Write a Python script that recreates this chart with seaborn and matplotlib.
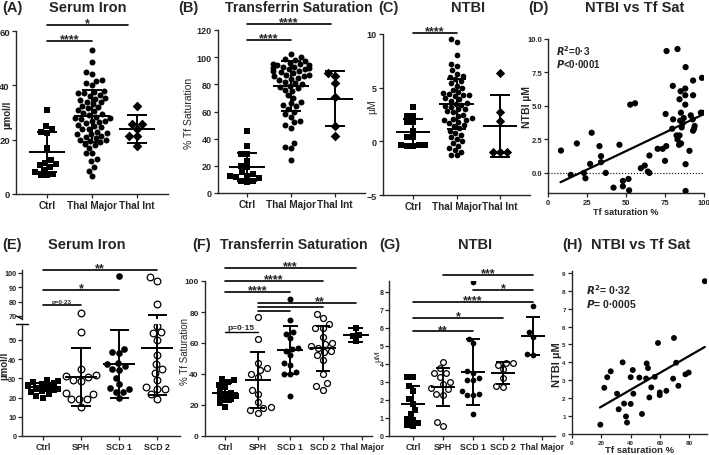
import warnings
warnings.filterwarnings("ignore")
import numpy as np
import pandas as pd
import matplotlib
matplotlib.use("Agg")
import matplotlib.pyplot as plt
import seaborn as sns

sns.set_theme(style="ticks")
plt.rcParams['font.family'] = ['Liberation Sans', 'DejaVu Sans']
plt.rcParams['font.weight'] = 'bold'
plt.rcParams['axes.linewidth'] = 1.0

# ---------------- DATA ----------------
# (A) Serum iron
A_cats = ["Ctrl", "Thal Major", "Thal Int"]
A_ctrl = [31, 25, 24, 23, 22.5, 17, 12.5, 11.5, 11, 10.5, 10, 9, 8, 7.5, 7, 7]
A_major = [53, 48.5, 45, 44, 42, 41.5, 41, 40, 38, 37.5, 37, 37, 36.5, 36, 35.5, 35,
           34.5, 34, 34, 33, 32.5, 32, 31.5, 31, 30.5, 30, 29.5, 29, 28.5, 28, 28,
           27.5, 27, 27, 26.5, 26, 25.5, 25, 24.5, 24, 24, 23, 22.5, 22, 22, 21.5,
           21, 20.5, 20, 20, 19.5, 19, 18.5, 18, 17, 15, 15, 13, 12, 10, 8.5, 6.5]
A_int = [32.4, 25.8, 25.8, 24, 21.4, 21.4, 17.7]
A_mean = [15.5, 28.7, 23.9]
A_sd = [7.3, 9.5, 5.2]

# (B) Transferrin saturation
B_ctrl = [46, 34.5, 29, 28.5, 23.5, 20, 19, 15.5, 14, 12.5, 12.5, 12, 11, 9, 9, 8]
B_major = [102, 100, 99, 98, 97, 96, 95, 95, 94, 94, 93, 93, 92, 92, 91, 91, 90, 90,
           89, 88, 87, 87, 86, 86, 85, 84, 83, 82, 81, 80, 79, 78, 77, 76, 75, 72, 70,
           67, 66, 65, 64, 62, 60, 58, 56, 53, 52, 50, 48, 37, 34, 33, 24]
B_int = [88.5, 86.5, 81, 71, 49, 42]
B_mean = [19.2, 78.8, 69.5]
B_sd = [10.6, 18.3, 20.3]

# (C) NTBI
C_ctrl = [3.2, 2.4, 2.4, 1.8, 1.8, 1.0, 0.4, 0.4, -0.35, -0.35, -0.35, -0.4, -0.45]
C_major = [9.5, 9.3, 8.0, 7.2, 7.0, 6.6, 6.3, 6.1, 6.0, 5.8, 5.6, 5.4, 5.2, 5.0, 4.8,
           4.6, 4.5, 4.4, 4.3, 4.3, 4.2, 4.0, 3.9, 3.8, 3.6, 3.5, 3.4, 3.3, 3.2, 3.0,
           3.0, 2.8, 2.7, 2.5, 2.4, 2.2, 2.1, 2.0, 2.0, 1.8, 1.7, 1.5, 1.4, 1.2, 1.0,
           0.8, 0.6, 0.4, 0.2, 0.0, -0.2, -0.4, -0.6, -0.8, -1.0, -1.3, -1.3]
C_int = [6.4, 2.7, 1.9, -1.0, -1.0, -1.0]
C_mean = [0.84, 3.47, 1.43]
C_sd = [1.2, 2.3, 2.9]

# (D) NTBI vs Tf sat (top)
D_x = [8.3, 14.6, 18.5, 23, 24, 27, 28, 33, 34, 34, 37, 42, 45.8, 48, 48, 51.6, 52,
       52.7, 55.8, 59.5, 62, 64, 65, 65, 70.3, 73.5, 75, 75.4, 75.8, 76, 80, 79.6,
       80.2, 83, 84.7, 82.4, 83, 84, 84.3, 85, 85.2, 85.7, 86.3, 87, 88, 88, 88,
       88.2, 88.2, 88.2, 90.7, 91.5, 92.8, 93, 93, 93, 93.6, 94, 98.7, 98, 100.4,
       84.3, 85.3]
D_y = [1.67, -0.15, 2.2, 0.0, -0.4, 0.67, 3.0, 2.0, 1.25, 0.8, 0.0, -1.1, 2.1, -0.6,
       -1.0, -0.45, -1.3, 5.1, 5.2, 0.35, 0.55, 0.1, 0.0, 1.3, 1.8, 1.8, 0.9, 4.4,
       2.0, 9.1, 6.5, 3.3, 4.0, 9.25, 3.9, 2.8, 2.5, 2.1, 5.5, 6.1, 4.5, 3.4, 3.7,
       4.1, 6.3, 5.8, 5.1, 7.9, 0.65, -1.35, 1.65, 4.3, 4.0, 6.9, 5.8, 3.15, 3.3,
       3.5, 7.1, 4.5, 4.5, 2.8, 2.2]
D_fit = (0.0554, -1.14)
D_fit_x = [8, 100]

# (E) Serum iron (bottom)
E_cats = ["Ctrl", "SPH", "SCD 1", "SCD 2"]
E_ctrl = [29, 28.5, 28, 27.5, 27, 26.5, 26, 25.5, 25, 24.5, 24, 23.5, 23, 22, 21, 20]
E_sph = [72, 54, 35, 32, 31, 30.5, 29, 28.5, 22.5, 22, 19.5, 19, 19, 15]
E_scd1 = [98, 45.5, 43.5, 43, 38, 37.5, 36.5, 35, 34.5, 30, 27, 25, 24.5, 23, 23, 20]
E_scd2 = [97, 94.5, 78, 57.5, 54, 53.5, 50, 42, 37.5, 35, 33, 29, 25.5, 24.5, 24.5,
          22, 19.5]
E_mean = [25.4, 30.7, 37.4, 45.8]
E_sd = [2.0, 15.3, 17.6, 24.5]

# (F) Transferrin saturation (bottom)
F_cats = ["Ctrl", "SPH", "SCD 1", "SCD 2", "Thal Major"]
F_ctrl = [37, 36, 35, 33, 31.5, 29, 28, 27, 26, 25, 24, 23, 21, 19]
F_sph = [77, 62.5, 47, 44, 42.5, 40, 38, 30, 27, 22, 19, 18, 16.5, 15]
F_scd1 = [88.5, 75, 67, 66, 63.5, 57, 56, 55, 52, 47, 46, 41, 40, 40, 26]
F_scd2 = [78.5, 76, 72, 70, 69.5, 64, 60, 59.5, 58, 57, 55, 54, 52, 49, 40, 34, 32, 30]
F_thal = [70, 65, 64.5, 61]
F_mean = [28, 36, 55.5, 56.5, 65]
F_sd = [6, 18, 15.5, 14.5, 4.5]

# (G) NTBI (bottom)
G_ctrl = [3.3, 3.25, 2.75, 2.5, 2.05, 1.8, 1.45, 1.2, 0.95, 0.9, 0.7, 0.6, 0.55]
G_sph = [4.1, 3.75, 3.5, 3.5, 3.25, 3.0, 2.9, 2.65, 2.6, 2.35, 2.3, 0.8, 0.55]
G_scd1 = [8.55, 5.4, 5.15, 3.6, 3.5, 3.2, 3.1, 3.1, 2.5, 2.35, 2.3, 2.3, 1.2]
G_scd2 = [4.05, 4.05, 3.95, 3.7, 3.2, 2.75, 2.7]
G_thal = [7.2, 5.75, 5.5, 4.5, 4.55]
G_mean = [1.8, 2.7, 3.55, 3.5, 5.55]
G_sd = [1.0, 1.05, 1.85, 0.6, 1.05]

# (H) NTBI vs Tf sat (bottom)
H_x = [19.3, 22, 24, 26.4, 30.7, 31.8, 34.5, 35.5, 36.8, 37.5, 40, 40, 41.4, 41.8,
       45.9, 47.7, 50.5, 50.9, 51.8, 52.7, 54, 56.4, 58.6, 59.8, 59.8, 64.3, 68.9,
       69.5, 71, 72.5, 77.3, 79.5, 90.5]
H_y = [0.52, 2.58, 3.17, 3.5, 2.25, 1.38, 4.0, 1.7, 0.98, 0.64, 1.68, 3.17, 3.57,
       2.25, 3.15, 1.12, 3.1, 3.94, 3.68, 2.04, 2.6, 3.19, 5.08, 2.32, 2.17, 2.41,
       3.09, 5.36, 3.98, 2.69, 3.33, 3.43, 8.53]
H_fit = (0.0473, 0.58)
H_fit_x = [19, 90.5]

# ---------------- LAYOUT ----------------
W, H = 709, 456
fig = plt.figure(figsize=(W / 100, H / 100), dpi=100)


def rect(l, t, r, b):
    return [l / W, 1 - b / H, (r - l) / W, (b - t) / H]


def style(ax, fs=6.5, xfs=None, pad=1.5):
    sns.despine(ax=ax)
    ax.tick_params(axis="both", labelsize=fs, length=3, width=0.9, pad=pad)
    if xfs:
        ax.tick_params(axis="x", labelsize=xfs, pad=1.5)
    for lab in ax.get_xticklabels() + ax.get_yticklabels():
        lab.set_fontweight("bold")
    ax.set_xlabel("")
    ax.set_ylabel("")


def ylab(ax, text, xr, yc, fs=7, weight="bold"):
    ax.set_ylabel(text, fontsize=fs, fontweight=weight)
    ax.yaxis.set_label_coords(xr / W, 1 - yc / H, transform=fig.transFigure)


def swarm(ax, cats, groups, markers, fills, size):
    for c, vals, m, f in zip(cats, groups, markers, fills):
        df = pd.DataFrame({"g": [c] * len(vals), "v": vals})
        sns.swarmplot(data=df, x="g", y="v", order=cats, ax=ax, marker=m,
                      size=size * (1.15 if m == "D" else 1.0),
                      color="black" if f else "white", edgecolor="black",
                      linewidth=0 if f else 0.9, warn_thresh=1.0, zorder=3)


def meansd(ax, means, sds, mw=0.7, cw=0.4, lw=1.4):
    for i, (m, s) in enumerate(zip(means, sds)):
        ax.vlines(i, m - s, m + s, color="black", lw=lw, zorder=4)
        ax.hlines([m - s, m + s], i - cw / 2, i + cw / 2, color="black", lw=lw, zorder=4)
        ax.hlines(m, i - mw / 2, i + mw / 2, color="black", lw=lw, zorder=4)


def sig(ax, x1, x2, y, txt, fs=9, dy=0.0, tx=None, lw=1.2):
    ax.plot([x1, x2], [y, y], color="black", lw=lw, clip_on=False, zorder=5)
    if txt:
        ax.text((x1 + x2) / 2 if tx is None else tx, y + dy, txt, ha="center",
                va="bottom", fontsize=fs, fontweight="bold", clip_on=False)


# ---- (A)
axA = fig.add_axes(rect(16, 32, 168, 195))
swarm(axA, A_cats, [A_ctrl, A_major, A_int], ["s", "o", "D"], [1, 1, 1], 4.3)
meansd(axA, A_mean, A_sd, mw=0.8, cw=0.45)
axA.set_xlim(-0.69, 2.7)
axA.set_ylim(0, 60)
axA.set_yticks([0, 20, 40, 60])
style(axA, fs=6.8, xfs=7.2)
ylab(axA, "µmol/l", 12, 115)
sig(axA, 0, 1, 56.3, "****", dy=-1.6)
sig(axA, 0, 1.8, 62.2, "*", dy=-1.6)

# ---- (B)
axB = fig.add_axes(rect(218, 31, 365, 194))
swarm(axB, A_cats, [B_ctrl, B_major, B_int], ["s", "o", "D"], [1, 1, 1], 4.3)
meansd(axB, B_mean, B_sd, mw=0.8, cw=0.45)
axB.set_xlim(-0.66, 2.68)
axB.set_ylim(0, 120)
axB.set_yticks([0, 20, 40, 60, 80, 100, 120])
style(axB, fs=6.5, xfs=7.2)
ylab(axB, "% Tf Saturation", 194, 113, fs=7.5, weight="normal")
sig(axB, 0, 1, 112.6, "****", dy=-3.2)
sig(axB, 0, 1.9, 124.4, "****", dy=-3.2)

# ---- (C)
axC = fig.add_axes(rect(383, 35, 530, 196))
swarm(axC, A_cats, [C_ctrl, C_major, C_int], ["s", "o", "D"], [1, 1, 1], 4.1)
meansd(axC, C_mean, C_sd, mw=0.8, cw=0.45)
axC.set_xlim(-0.69, 2.69)
axC.set_ylim(-5, 10)
axC.set_yticks([-5, 0, 5, 10])
style(axC, fs=6.5, xfs=7.2)
ylab(axC, "µM", 377, 107, fs=7.5, weight="normal")
sig(axC, 0, 1, 10.1, "****", dy=-0.4)

# ---- (D)
axD = fig.add_axes(rect(548, 40, 704, 194))
sns.scatterplot(x=D_x, y=D_y, ax=axD, color="black", s=20, edgecolor="none", zorder=3)
axD.axhline(0, color="black", lw=0.8, ls=":", zorder=1)
fx = np.array(D_fit_x)
axD.plot(fx, D_fit[0] * fx + D_fit[1], color="black", lw=1.6)
axD.set_xlim(0, 100)
axD.set_ylim(-1.5, 10)
axD.set_xticks([0, 25, 50, 75, 100])
axD.set_yticks([0, 2.5, 5, 7.5, 10])
axD.set_yticklabels(["0.0", "2.5", "5.0", "7.5", "10.0"])
style(axD, fs=5.5, pad=1.0)
axD.set_xlabel("Tf saturation %", fontsize=6.5, fontweight="bold", labelpad=1)
ylab(axD, "NTBI µM", 532, 107, fs=7.5)
axD.text(0.05, 0.97, r"$\bfit{R}$$\bf^2$=0·3", transform=axD.transAxes, fontsize=7,
         va="top", fontweight="bold")
axD.text(0.05, 0.88, r"$\bfit{P}$<0·0001", transform=axD.transAxes, fontsize=7,
         va="top", fontweight="bold")

# ---- (E) broken axis
axEl = fig.add_axes(rect(22, 325, 180, 437))
axEu = fig.add_axes(rect(22, 271, 180, 320))
Eg = [E_ctrl, E_sph, E_scd1, E_scd2]
Em = ["s", "o", "o", "o"]
Ef = [1, 0, 1, 0]
for ax in (axEl, axEu):
    swarm(ax, E_cats, Eg, Em, Ef, 4.8)
    meansd(ax, E_mean, E_sd, mw=0.85, cw=0.5)
    ax.set_xlim(-0.55, 3.6)
axEl.set_ylim(0, 58.3)
axEl.set_yticks([0, 10, 20, 30, 40, 50])
axEu.set_ylim(67.8, 102)
axEu.set_yticks([70, 80, 90, 100])
style(axEl, fs=5.3, xfs=6.3, pad=1.0)
style(axEu, fs=5.3, pad=1.0)
axEu.spines["bottom"].set_visible(False)
axEu.tick_params(axis="x", bottom=False, labelbottom=False)
axEl.plot([-0.035, 0.035], [1, 1], transform=axEl.transAxes, color="black", lw=1.0,
          clip_on=False)
axEu.plot([-0.035, 0.0], [0.06, 0.0], transform=axEu.transAxes, color="black", lw=1.0,
          clip_on=False)
ylab(axEl, "µmol/l", 9, 366)
sig(axEu, 0, 1, 77.8, "p=0·23", fs=4.5, dy=0.4)
sig(axEu, 0, 2, 88.3, "*", fs=9, dy=-3.5)
sig(axEu, 0, 3, 102.3, "**", fs=9, dy=-3.5)

# ---- (F)
axF = fig.add_axes(rect(205, 282, 372, 437))
swarm(axF, F_cats, [F_ctrl, F_sph, F_scd1, F_scd2, F_thal],
      ["s", "o", "o", "o", "s"], [1, 0, 1, 0, 1], 4.3)
meansd(axF, F_mean, F_sd, mw=0.8, cw=0.45)
axF.set_xlim(-0.61, 4.5)
axF.set_ylim(0, 100)
axF.set_yticks([0, 20, 40, 60, 80, 100])
axF.set_xticks([0, 1, 2, 3, 4.2])
axF.set_xticklabels(F_cats)
style(axF, fs=6, xfs=6.3)
ylab(axF, "% Tf Saturation", 190, 352, fs=7, weight="normal")
sig(axF, 0, 1, 67, "p=0·15", fs=6, dy=0.6, lw=1.0)
sig(axF, 0, 2, 93, "****", dy=-2.8)
sig(axF, 0, 3, 100, "****", dy=-2.8)
sig(axF, 0, 4, 108.4, "***", dy=-2.8)
sig(axF, 1, 2, 80.6, "")
sig(axF, 1, 3, 83.0, "")
sig(axF, 1, 4, 85.8, "**", dy=-2.8, tx=2.9)

# ---- (G)
axG = fig.add_axes(rect(389, 282, 555, 437))
swarm(axG, F_cats, [G_ctrl, G_sph, G_scd1, G_scd2, G_thal],
      ["s", "o", "o", "o", "o"], [1, 0, 1, 0, 1], 4.1)
meansd(axG, G_mean, G_sd, mw=0.8, cw=0.45)
axG.set_xlim(-0.8, 4.73)
axG.set_ylim(0, 8.6)
axG.set_yticks(range(0, 9))
axG.set_xticks([0, 1, 2, 3, 4.3])
axG.set_xticklabels(F_cats)
style(axG, fs=5, xfs=6.3, pad=1.0)
ylab(axG, "µM", 381, 356, fs=6, weight="normal")
sig(axG, 0, 2, 5.8, "**", dy=-0.25)
sig(axG, 0, 3, 6.55, "*", dy=-0.25)
sig(axG, 0, 4, 7.44, "****", dy=-0.25)
sig(axG, 2, 4, 8.1, "*", dy=-0.25)
sig(axG, 1, 4, 8.94, "***", dy=-0.25)

# ---- (H)
axH = fig.add_axes(rect(572, 272, 707, 435))
sns.scatterplot(x=H_x, y=H_y, ax=axH, color="black", s=18, edgecolor="none", zorder=3)
hx = np.array(H_fit_x)
axH.plot(hx, H_fit[0] * hx + H_fit[1], color="black", lw=1.6)
axH.set_xlim(0, 92)
axH.set_ylim(0, 9.1)
axH.set_xticks([0, 20, 40, 60, 80])
axH.set_yticks(range(0, 10))
style(axH, fs=4.5)
axH.tick_params(axis="x", pad=1)
axH.set_xlabel("Tf saturation %", fontsize=6.8, fontweight="bold", labelpad=0)
ylab(axH, "NTBI µM", 562, 365, fs=8)
axH.text(0.1, 0.93, r"$\bfit{R}$$\bf^2$= 0·32", transform=axH.transAxes, fontsize=7.5,
         va="top", fontweight="bold")
axH.text(0.1, 0.84, r"$\bfit{P}$= 0·0005", transform=axH.transAxes, fontsize=7.5,
         va="top", fontweight="bold")

# ---- titles
def ftxt(x, y, s, ha="left", fs=10.5):
    fig.text(x / W, 1 - y / H, s, ha=ha, va="center", fontsize=fs, fontweight="bold")

ftxt(2, 8, "(A)")
ftxt(88, 8, "Serum Iron", ha="center")
ftxt(178, 8, "(B)")
ftxt(225, 8, "Transferrin Saturation", fs=10.2)
ftxt(378, 8, "(C)")
ftxt(468, 8, "NTBI", ha="center")
ftxt(528, 8, "(D)")
ftxt(635, 8, "NTBI vs Tf Sat", ha="center")
ftxt(2, 245, "(E)")
ftxt(87, 245, "Serum Iron", ha="center")
ftxt(192, 245, "(F)")
ftxt(220, 245, "Transferrin Saturation", fs=10.2)
ftxt(379, 245, "(G)")
ftxt(475, 245, "NTBI", ha="center")
ftxt(562, 245, "(H)")
ftxt(591, 245, "NTBI vs Tf Sat")

fig.savefig("out.png", dpi=100)
